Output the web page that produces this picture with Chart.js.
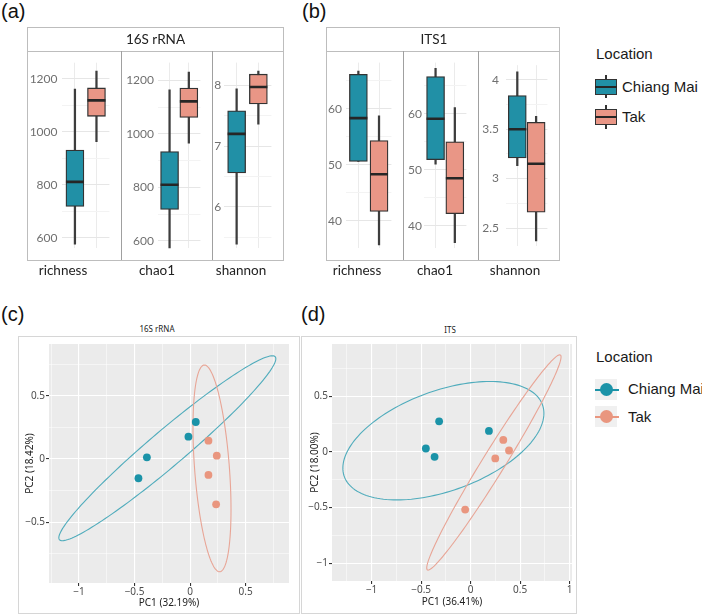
<!DOCTYPE html>
<html>
<head>
<meta charset="utf-8">
<script src="https://cdn.jsdelivr.net/npm/chart.js@4.4.1/dist/chart.umd.min.js"></script>
<style>
  body { margin: 0; background: #fff; }
  #fig { position: relative; width: 702px; height: 615px; overflow: hidden; font-family: 'Liberation Sans', Arial, sans-serif; }
  #fig canvas { position: absolute; }
  .frame { position: absolute; box-sizing: border-box; border: 1px solid #bdbdbd; pointer-events: none; }
  .line { position: absolute; background: #a0a0a0; pointer-events: none; }
  .strip { position: absolute; font-family: Lato, sans-serif; font-size: 13.5px; color: #222; text-align: center; line-height: 24px; }
  .fl { position: absolute; font-family: Lato, sans-serif; font-size: 13.5px; color: #222; text-align: center; width: 80px; line-height: 16px; }
  .tag { position: absolute; font-size: 20px; line-height: 24px; color: #111; }
  .lg { position: absolute; font-size: 15px; line-height: 18px; color: #1a1a1a; white-space: nowrap; }
  .ttl { position: absolute; font-family: 'Noto Sans', sans-serif; font-size: 8px; color: #222; text-align: center; width: 80px; line-height: 10px; }
  .abs { position: absolute; }
</style>
</head>
<body>
<div id="fig">
  <div class="tag" style="left:1px;top:-1px">(a)</div>
  <div class="tag" style="left:302px;top:-1px">(b)</div>
  <div class="tag" style="left:1px;top:302px">(c)</div>
  <div class="tag" style="left:301px;top:302px">(d)</div>

  <!-- box plot facets -->
  <canvas id="a1" width="94" height="209" style="left:27px;top:51px"></canvas>
  <canvas id="a2" width="91" height="209" style="left:121px;top:51px"></canvas>
  <canvas id="a3" width="71" height="209" style="left:212px;top:51px"></canvas>
  <canvas id="b1" width="77" height="209" style="left:326px;top:51px"></canvas>
  <canvas id="b2" width="75" height="209" style="left:403px;top:51px"></canvas>
  <canvas id="b3" width="81" height="209" style="left:478px;top:51px"></canvas>

  <div class="frame" style="left:27px;top:27px;width:257px;height:234px"></div>
  <div class="line" style="left:27px;top:51px;width:257px;height:1px;background:#bdbdbd"></div>
  <div class="line" style="left:121px;top:51px;width:1px;height:209px"></div>
  <div class="line" style="left:212px;top:51px;width:1px;height:209px"></div>
  <div class="strip" style="left:27px;top:27px;width:257px">16S rRNA</div>

  <div class="frame" style="left:326px;top:27px;width:234px;height:234px"></div>
  <div class="line" style="left:326px;top:51px;width:234px;height:1px;background:#bdbdbd"></div>
  <div class="line" style="left:403px;top:51px;width:1px;height:209px"></div>
  <div class="line" style="left:478px;top:51px;width:1px;height:209px"></div>
  <div class="strip" style="left:326px;top:27px;width:216px">ITS1</div>

  <div class="fl" style="left:23px;top:262px">richness</div>
  <div class="fl" style="left:117px;top:262px">chao1</div>
  <div class="fl" style="left:201px;top:262px">shannon</div>
  <div class="fl" style="left:317px;top:262px">richness</div>
  <div class="fl" style="left:395px;top:262px">chao1</div>
  <div class="fl" style="left:475px;top:262px">shannon</div>

  <!-- legend, box plots -->
  <div class="lg" style="left:596px;top:45px">Location</div>
  <div class="abs" style="left:605px;top:75px;width:2px;height:23px;background:#333"></div>
  <div class="abs" style="left:595px;top:79px;width:22px;height:16px;box-sizing:border-box;border:1px solid #333;background:#2190a6"></div>
  <div class="abs" style="left:595px;top:86px;width:22px;height:2px;background:#262626"></div>
  <div class="lg" style="left:622px;top:78px">Chiang Mai</div>
  <div class="abs" style="left:605px;top:105px;width:2px;height:24px;background:#333"></div>
  <div class="abs" style="left:595px;top:109px;width:22px;height:16px;box-sizing:border-box;border:1px solid #333;background:#e99686"></div>
  <div class="abs" style="left:595px;top:116px;width:22px;height:2px;background:#262626"></div>
  <div class="lg" style="left:622px;top:108px">Tak</div>

  <!-- PCA panels -->
  <div class="frame" style="left:18px;top:336px;width:282px;height:278px;border-color:#d6d6d6"></div>
  <div class="frame" style="left:301px;top:336px;width:276px;height:278px;border-color:#d6d6d6"></div>
  <div class="ttl" style="left:117px;top:324px">16S rRNA</div>
  <div class="ttl" style="left:410px;top:325px">ITS</div>
  <canvas id="c1" width="280" height="276" style="left:19px;top:337px"></canvas>
  <canvas id="d1" width="274" height="276" style="left:302px;top:337px"></canvas>

  <!-- legend, PCA -->
  <div class="lg" style="left:596px;top:348px">Location</div>
  <div class="abs" style="left:595px;top:379px;width:22px;height:21px;background:#f0f0f0"></div>
  <div class="abs" style="left:595px;top:389px;width:24px;height:1.5px;background:#1b93a8"></div>
  <div class="abs" style="left:600px;top:383px;width:13px;height:13px;border-radius:50%;background:#1b93a8"></div>
  <div class="lg" style="left:628px;top:380px">Chiang Mai</div>
  <div class="abs" style="left:595px;top:406px;width:22px;height:21px;background:#f0f0f0"></div>
  <div class="abs" style="left:595px;top:416px;width:24px;height:1.5px;background:#e9967f"></div>
  <div class="abs" style="left:600px;top:410px;width:13px;height:13px;border-radius:50%;background:#e9967f"></div>
  <div class="lg" style="left:628px;top:408px">Tak</div>
</div>

<script>
// alpha diversity, five-number summaries [min, q1, median, q3, max]
const groups = ['Chiang Mai', 'Tak'];
const bacRichCM  = [577, 719, 811, 931, 1161];
const bacRichTak = [963, 1058, 1118, 1165, 1228];
const bacChaoCM  = [573, 718, 810, 934, 1165];
const bacChaoTak = [966, 1062, 1122, 1172, 1232];
const bacShanCM  = [5.39, 6.56, 7.20, 7.58, 7.94];
const bacShanTak = [7.36, 7.69, 7.97, 8.18, 8.23];
const funRichCM  = [50.6, 50.6, 58.3, 66.1, 66.7];
const funRichTak = [35.7, 41.7, 48.3, 54.3, 58.7];
const funChaoCM  = [51.0, 51.8, 59.1, 66.6, 68.1];
const funChaoTak = [37.0, 42.2, 48.5, 55.0, 61.1];
const funShanCM  = [3.13, 3.21, 3.50, 3.84, 4.08];
const funShanTak = [2.37, 2.66, 3.15, 3.57, 3.63];

// PCA scores
const bacCMx  = [-0.465, -0.389, -0.015, 0.051];
const bacCMy  = [-0.152, 0.013, 0.176, 0.292];
const bacTakx = [0.165, 0.240, 0.165, 0.234];
const bacTaky = [0.145, 0.026, -0.126, -0.358];
const funCMx  = [-0.318, -0.452, -0.364, 0.185];
const funCMy  = [0.274, 0.030, -0.045, 0.188];
const funTakx = [0.330, 0.388, 0.249, -0.055];
const funTaky = [0.107, 0.012, -0.059, -0.518];

// ellipses: centre x, centre y, half-axis to top (ax, ay), horizontal half-chord
const ellBacCM  = [-0.205, 0.085, 0.945, 0.730, 0.246];
const ellBacTak = [0.197, -0.074, -0.068, 0.816, 0.157];
const ellFunCM  = [-0.275, 0.100, 0.470, 0.531, 0.900];
const ellFunTak = [0.235, -0.095, 0.665, 0.965, 0.134];

const teal = '#2190a6', salmon = '#e99686';
const isMult = (v, s) => Math.abs(v / s - Math.round(v / s)) < 1e-6;
const fmt = v => String(+v.toFixed(2)).replace('-', '\u2212');
const gridTicks = (lo, hi, step) => {
  const out = [];
  for (let v = Math.ceil(lo / step - 1e-9) * step; v <= hi + 1e-9; v += step) out.push({ value: +v.toFixed(6) });
  return out;
};

function boxFacet(id, cm, tak, yMin, yMax, major, axisW, pad, padR) {
  const minor = major / 2;
  new Chart(document.getElementById(id), {
    type: 'bar',
    data: {
      datasets: [
        { // median
          type: 'line', data: [{ x: 1, y: cm[2] }, { x: 2, y: tak[2] }],
          showLine: false, pointStyle: 'line', pointRadius: 9, pointBorderWidth: 2.6,
          pointBorderColor: '#262626', order: 1
        },
        { // box
          data: [{ x: 1, y: [cm[1], cm[3]] }, { x: 2, y: [tak[1], tak[3]] }],
          backgroundColor: [teal, salmon], borderColor: '#333', borderWidth: 1.3,
          borderSkipped: false, barThickness: 18, grouped: false, order: 2
        },
        { // whisker
          data: [{ x: 1, y: [cm[0], cm[4]] }, { x: 2, y: [tak[0], tak[4]] }],
          backgroundColor: '#3d3d3d', barThickness: 1.6, grouped: false, order: 3
        }
      ]
    },
    options: {
      animation: false, responsive: false,
      layout: { padding: { top: 7, bottom: 5, left: 0, right: padR } },
      plugins: { legend: { display: false }, tooltip: { enabled: false } },
      scales: {
        x: {
          type: 'linear', min: 0.4, max: 2.6, offset: false,
          afterBuildTicks: s => { s.ticks = [{ value: 1 }, { value: 2 }]; },
          afterFit: s => { s.height = 0; },
          ticks: { display: false },
          grid: { color: '#ebebeb', drawTicks: false, offset: false },
          border: { display: false }
        },
        y: {
          min: yMin, max: yMax,
          afterBuildTicks: s => { s.ticks = gridTicks(s.min, s.max, minor); },
          afterFit: s => { s.width = axisW; },
          ticks: {
            autoSkip: false, padding: pad, color: '#707070',
            font: { family: 'Lato', size: 12 },
            callback: v => isMult(v, major) ? fmt(v) : ''
          },
          grid: { color: c => isMult(c.tick.value, major) ? '#e6e6e6' : '#f3f3f3', drawTicks: false },
          border: { display: false }
        }
      }
    }
  });
}

boxFacet('a1', bacRichCM, bacRichTak, 561, 1260, 200, 35, 4.5, 8);
boxFacet('a2', bacChaoCM, bacChaoTak, 572, 1267, 200, 37, 4, 4);
boxFacet('a3', bacShanCM, bacShanTak, 5.32, 8.37, 1, 11, 2.5, 7);
boxFacet('b1', funRichCM, funRichTak, 35.1, 68.2, 10, 20, 4, 6);
boxFacet('b2', funChaoCM, funChaoTak, 36.0, 69.1, 10, 21, 2, 3);
boxFacet('b3', funShanCM, funShanTak, 2.32, 4.148, 0.5, 28, 7, 2);

function pcaChart(id, cmx, cmy, takx, taky, ellCM, ellTak, xr, yr, xTitle, yTitle, lay) {
  const ellipses = [[ellCM, '#50acbc'], [ellTak, '#e8a596']];
  const panel = {
    id: 'panel',
    beforeDraw(chart) {
      const a = chart.chartArea, ctx = chart.ctx;
      ctx.save();
      ctx.fillStyle = '#ebebeb';
      ctx.fillRect(a.left, a.top, a.width, a.height);
      ctx.restore();
    },
    beforeDatasetsDraw(chart) {
      const { ctx, chartArea: a, scales: { x, y } } = chart;
      ctx.save();
      ctx.beginPath(); ctx.rect(a.left, a.top, a.width, a.height); ctx.clip();
      ellipses.forEach(([e, color]) => {
        ctx.beginPath();
        for (let i = 0; i <= 160; i++) {
          const t = i / 160 * 2 * Math.PI;
          const px = x.getPixelForValue(e[0] + e[2] * Math.cos(t) + e[4] * Math.sin(t));
          const py = y.getPixelForValue(e[1] + e[3] * Math.cos(t));
          if (i === 0) ctx.moveTo(px, py); else ctx.lineTo(px, py);
        }
        ctx.strokeStyle = color; ctx.lineWidth = 1.1; ctx.stroke();
      });
      ctx.restore();
    }
  };
  const axis = (range, title, isX) => ({
    type: 'linear', min: range[0], max: range[1],
    afterBuildTicks: s => { s.ticks = gridTicks(s.min, s.max, 0.25); },
    afterFit: s => { if (isX) s.height = lay.xh; else s.width = 30; },
    ticks: {
      autoSkip: false, maxRotation: 0, padding: isX ? 0 : 1, color: '#4d4d4d',
      font: { family: 'Noto Sans', size: 10 },
      callback: v => isMult(v, 0.5) ? fmt(v) : ''
    },
    grid: {
      color: '#ffffff',
      lineWidth: c => isMult(c.tick.value, 0.5) ? 1.1 : 0.5,
      tickColor: c => isMult(c.tick.value, 0.5) ? '#333333' : 'rgba(0,0,0,0)',
      tickLength: 3
    },
    border: { display: false },
    title: {
      display: true, text: title, color: '#222',
      font: { family: 'Noto Sans', size: 10 },
      padding: isX ? { top: 0, bottom: 3 } : { top: lay.yt, bottom: 0 }
    }
  });
  new Chart(document.getElementById(id), {
    type: 'scatter',
    data: {
      datasets: [
        { label: groups[0], data: cmx.map((v, i) => ({ x: v, y: cmy[i] })), backgroundColor: '#1b93a8', borderWidth: 0, pointRadius: 3.9 },
        { label: groups[1], data: takx.map((v, i) => ({ x: v, y: taky[i] })), backgroundColor: '#e9967f', borderWidth: 0, pointRadius: 3.9 }
      ]
    },
    options: {
      animation: false, responsive: false,
      layout: { padding: { top: lay.t, right: lay.r, bottom: lay.b, left: 0 } },
      plugins: { legend: { display: false }, tooltip: { enabled: false } },
      scales: { x: axis(xr, xTitle, true), y: axis(yr, yTitle, false) }
    },
    plugins: [panel]
  });
}

pcaChart('c1', bacCMx, bacCMy, bacTakx, bacTaky, ellBacCM, ellBacTak,
  [-1.27, 0.89], [-0.979, 0.908], 'PC1 (32.19%)', 'PC2 (18.42%)', { t: 7, r: 10, b: 1, xh: 29, yt: 5 });
pcaChart('d1', funCMx, funCMy, funTakx, funTaky, ellFunCM, ellFunTak,
  [-1.40, 1.024], [-1.158, 0.967], 'PC1 (36.41%)', 'PC2 (18.00%)', { t: 6, r: 4, b: 2, xh: 30, yt: 7 });
</script>
</body>
</html>
